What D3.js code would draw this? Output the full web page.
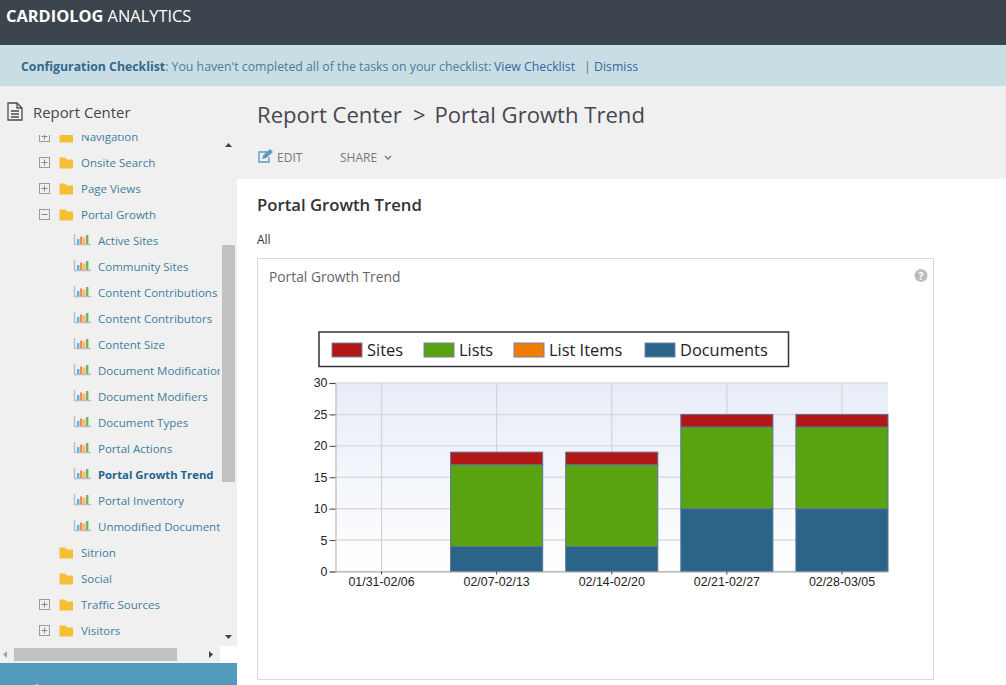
<!DOCTYPE html>
<html>
<head>
<meta charset="utf-8">
<script src="https://cdn.jsdelivr.net/npm/d3@7"></script>
<style>
  html, body { margin: 0; padding: 0; background: #fff; overflow: hidden; }
  svg { display: block; }
  text { font-family: "Open Sans", sans-serif; }
  .axis text { font-family: "Liberation Sans", Arial, sans-serif; }
</style>
</head>
<body>
<div id="page"></div>
<script>
// chart data
const weeks = ["01/31-02/06", "02/07-02/13", "02/14-02/20", "02/21-02/27", "02/28-03/05"];
const documents = [0, 4, 4, 10, 10];
const listItems = [0, 0, 0, 0, 0];
const lists = [0, 13, 13, 13, 13];
const sites = [0, 2, 2, 2, 2];
const seriesNames = ["Sites", "Lists", "List Items", "Documents"];
const seriesColors = ["#b31616", "#58a30f", "#f07d06", "#2b6489"];
const yTicks = [0, 5, 10, 15, 20, 25, 30];

// sidebar tree: label, depth, toggle
const treeLabels = ["Navigation", "Onsite Search", "Page Views", "Portal Growth", "Active Sites", "Community Sites",
  "Content Contributions", "Content Contributors", "Content Size", "Document Modifications", "Document Modifiers",
  "Document Types", "Portal Actions", "Portal Growth Trend", "Portal Inventory", "Unmodified Documents",
  "Sitrion", "Social", "Traffic Sources", "Visitors"];
const treeDepth = [0, 0, 0, 0, 1, 1, 1, 1, 1, 1, 1, 1, 1, 1, 1, 1, 0, 0, 0, 0];
const treeToggle = ["+", "+", "+", "-", "", "", "", "", "", "", "", "", "", "", "", "", "", "", "+", "+"];

const svg = d3.select("#page").append("svg").attr("width", 1006).attr("height", 685);
const defs = svg.append("defs");

const grad = defs.append("linearGradient").attr("id", "plotBg")
    .attr("x1", 0).attr("y1", 0).attr("x2", 0).attr("y2", 1);
grad.append("stop").attr("offset", "0%").attr("stop-color", "#e7edf7");
grad.append("stop").attr("offset", "100%").attr("stop-color", "#ffffff");

defs.append("clipPath").attr("id", "treeClip").append("rect")
    .attr("x", 0).attr("y", 135).attr("width", 220).attr("height", 512);

// page backdrop
svg.append("rect").attr("width", 1006).attr("height", 685).attr("fill", "#f0f0f0");
svg.append("rect").attr("width", 1006).attr("height", 45).attr("fill", "#3c444e");
svg.append("rect").attr("y", 45).attr("width", 1006).attr("height", 41).attr("fill", "#c9dde5");
svg.append("rect").attr("x", 237).attr("y", 179).attr("width", 769).attr("height", 506).attr("fill", "#fff");

// header
const brand = svg.append("text").attr("x", 6).attr("y", 22).attr("font-size", 16.4).attr("fill", "#fff");
brand.append("tspan").attr("font-weight", 700).text("CARDIOLOG");
brand.append("tspan").text(" ANALYTICS");

// checklist banner
const banner = svg.append("text").attr("x", 21).attr("y", 71).attr("font-size", 12.3).attr("fill", "#4b7c96");
banner.append("tspan").attr("font-weight", 700).attr("fill", "#33698a").text("Configuration Checklist");
banner.append("tspan").text(": You haven't completed all of the tasks on your checklist: ");
banner.append("tspan").attr("x", 494).attr("fill", "#33689f").text("View Checklist");
banner.append("tspan").attr("x", 584).attr("fill", "#4b7c96").text("|");
banner.append("tspan").attr("x", 594).attr("fill", "#33689f").text("Dismiss");

// sidebar title with page icon
const pageIcon = svg.append("g").attr("transform", "translate(7,102)").attr("fill", "none").attr("stroke", "#4a4a52").attr("stroke-width", 1.3);
pageIcon.append("path").attr("d", "M1 1H10L15 6V18H1Z");
pageIcon.append("path").attr("d", "M10 1V6H15M4 9H12M4 12H12M4 15H12");
svg.append("text").attr("x", 33).attr("y", 118).attr("font-size", 14.9).attr("fill", "#47474f").text("Report Center");

// sidebar tree
const tree = svg.append("g").attr("clip-path", "url(#treeClip)");
const rowY = d3.scaleLinear().domain([0, 19]).range([137, 631]);
const rows = tree.selectAll("g.row").data(treeLabels).enter().append("g")
    .attr("class", "row")
    .attr("transform", (d, i) => `translate(0,${rowY(i)})`);

rows.append("text")
    .attr("x", (d, i) => treeDepth[i] ? 98 : 81)
    .attr("y", 4)
    .attr("font-size", d => d === "Portal Growth Trend" ? 11.3 : 11.5)
    .attr("font-weight", d => d === "Portal Growth Trend" ? 700 : 400)
    .attr("fill", d => d === "Portal Growth Trend" ? "#24658c" : "#3f7d9f")
    .text(d => d);

rows.filter((d, i) => !treeDepth[i]).append("path")
    .attr("d", "M59.5 -5.500H65L67 -3.500H73V5.500H59.5Z")
    .attr("fill", "#f5c035");

const toggles = rows.filter((d, i) => treeToggle[i]);
toggles.append("rect").attr("x", 39.5).attr("y", -5.5).attr("width", 10).attr("height", 10)
    .attr("fill", "none").attr("stroke", "#9a9a9a");
toggles.append("path")
    .attr("d", (d) => treeToggle[treeLabels.indexOf(d)] === "+" ? "M41.5 -0.5H47.5M44.5 -3.5V2.5" : "M41.5 -0.5H47.5")
    .attr("stroke", "#8a8a8a").attr("fill", "none");

// little report icon in front of the leaves
const leafIcon = rows.filter((d, i) => treeDepth[i]).append("g").attr("transform", "translate(74,-7)");
leafIcon.append("path").attr("d", "M0.5 0V10.5H17").attr("fill", "none").attr("stroke", "#bcbcbc").attr("stroke-width", 1.4);
[["#58b5e8", 3, 5, 5], ["#ee8a6a", 6, 2.5, 7.500], ["#f2c14e", 9, 3.5, 6.500], ["#6fb36a", 12, 1, 9]].forEach(b => {
  leafIcon.append("rect").attr("x", b[1]).attr("y", b[2]).attr("width", 2.4).attr("height", b[3]).attr("fill", b[0]);
});

// sidebar scrollbars
svg.append("rect").attr("x", 222).attr("y", 245).attr("width", 13).attr("height", 237).attr("fill", "#c1c1c1");
svg.append("path").attr("d", "M225 147L228.500 143L232 147Z").attr("fill", "#444");
svg.append("path").attr("d", "M225 635L228.500 639L232 635Z").attr("fill", "#444");
svg.append("rect").attr("x", 14).attr("y", 648).attr("width", 163).attr("height", 13).attr("fill", "#c1c1c1");
svg.append("path").attr("d", "M7 651L3 654.500L7 658Z").attr("fill", "#a3a3a3");
svg.append("path").attr("d", "M209 651L213 654.500L209 658Z").attr("fill", "#444");
svg.append("rect").attr("x", 220).attr("y", 646).attr("width", 17).attr("height", 17).attr("fill", "#fff");

// bottom blue block with clipped label
svg.append("rect").attr("y", 663).attr("width", 237).attr("height", 22).attr("fill", "#529bbc");
svg.append("text").attr("x", 8).attr("y", 695).attr("font-size", 15).attr("fill", "#fff").text("Analytic Dr");

// report heading
const heading = svg.append("text").attr("y", 123).attr("font-size", 22.1).attr("fill", "#47474f");
heading.append("tspan").attr("x", 257).text("Report Center");
heading.append("tspan").attr("x", 413).text(">");
heading.append("tspan").attr("x", 434.5).text("Portal Growth Trend");

const editIcon = svg.append("g").attr("transform", "translate(257,149)").attr("fill", "none").attr("stroke", "#5b9cc0").attr("stroke-width", 1.3);
editIcon.append("path").attr("d", "M11 3H2V13H12V8");
editIcon.append("path").attr("d", "M6 9L7 6.500L13 1L15 3L9 8.500Z").attr("fill", "#5b9cc0");
svg.append("text").attr("x", 277).attr("y", 162).attr("font-size", 12).attr("fill", "#777").text("EDIT");
svg.append("text").attr("x", 340).attr("y", 162).attr("font-size", 12).attr("fill", "#777").text("SHARE");
svg.append("path").attr("d", "M385 156L388 159L391 156").attr("fill", "none").attr("stroke", "#777").attr("stroke-width", 1.3);

svg.append("text").attr("x", 257).attr("y", 211).attr("font-size", 16.7).attr("font-weight", 600).attr("fill", "#333").text("Portal Growth Trend");
svg.append("text").attr("x", 257).attr("y", 244).attr("font-size", 12).attr("fill", "#333").text("All");

// chart panel
svg.append("rect").attr("x", 257.5).attr("y", 258.5).attr("width", 676).attr("height", 421)
    .attr("fill", "#fff").attr("stroke", "#d9d9d9");
svg.append("text").attr("x", 269).attr("y", 282).attr("font-size", 13.8).attr("fill", "#666").text("Portal Growth Trend");
svg.append("circle").attr("cx", 921).attr("cy", 275.5).attr("r", 6.5).attr("fill", "#bdbdbd");
svg.append("text").attr("x", 921).attr("y", 279.5).attr("font-size", 10.5).attr("font-weight", 700)
    .attr("text-anchor", "middle").attr("fill", "#fff").text("?");

// scales
const x = d3.scaleBand().domain(weeks).range([335.5, 888]).paddingInner(0.2).paddingOuter(0);
const y = d3.scaleLinear().domain([0, 30]).range([571.5, 383]);

// plot background + grid
svg.append("rect").attr("x", 335.5).attr("y", 383).attr("width", 552.5).attr("height", 188.5).attr("fill", "url(#plotBg)");

svg.append("g").selectAll("line").data(yTicks).enter().append("line")
    .attr("x1", 335.5).attr("x2", 888)
    .attr("y1", d => y(d)).attr("y2", d => y(d))
    .attr("stroke", "#dcdcdc").attr("stroke-width", 1.5);

svg.append("g").selectAll("line").data(weeks).enter().append("line")
    .attr("x1", d => x(d) + x.bandwidth() / 2).attr("x2", d => x(d) + x.bandwidth() / 2)
    .attr("y1", 383).attr("y2", 571.5)
    .attr("stroke", "#d4d4d4").attr("stroke-width", 1.2);

// stacked bars
const table = weeks.map((w, i) => ({ week: w, Documents: documents[i], "List Items": listItems[i], Lists: lists[i], Sites: sites[i] }));
const stackOrder = ["Documents", "List Items", "Lists", "Sites"];
const stacked = d3.stack().keys(stackOrder)(table);

svg.append("g").selectAll("g").data(stacked).enter().append("g")
    .attr("fill", s => seriesColors[seriesNames.indexOf(s.key)])
    .selectAll("rect").data(s => s.filter(d => d[1] > d[0])).enter().append("rect")
    .attr("x", d => x(d.data.week))
    .attr("y", d => y(d[1]))
    .attr("width", x.bandwidth())
    .attr("height", d => y(d[0]) - y(d[1]))
    .attr("stroke", "#5a7695")
    .attr("stroke-width", 1);

// axes
const yAxis = svg.append("g").attr("class", "axis").attr("transform", "translate(335.5,0)")
    .call(d3.axisLeft(y).tickValues(yTicks).tickSize(6).tickPadding(2));
yAxis.select(".domain").attr("stroke", "#c8c8c8").attr("stroke-width", 1.5);
yAxis.selectAll("line").attr("stroke", "#444");
yAxis.selectAll("text").attr("font-size", 12.4).attr("fill", "#222");

const xAxis = svg.append("g").attr("class", "axis").attr("transform", "translate(0,571.5)")
    .call(d3.axisBottom(x).tickSize(3).tickPadding(3).tickSizeOuter(0));
xAxis.select(".domain").attr("stroke", "#aaa").attr("stroke-width", 1.2);
xAxis.selectAll("line").attr("stroke", "#444");
xAxis.selectAll("text").attr("font-size", 12.4).attr("fill", "#222");

// legend
svg.append("rect").attr("x", 319).attr("y", 332).attr("width", 469.5).attr("height", 34.5)
    .attr("fill", "#fff").attr("stroke", "#333").attr("stroke-width", 1.5);
const legendX = d3.scaleOrdinal().domain(seriesNames).range([332, 424, 514, 645]);
const legend = svg.append("g").selectAll("g").data(seriesNames).enter().append("g")
    .attr("transform", d => `translate(${legendX(d)},343)`);
legend.append("rect").attr("width", 30).attr("height", 14)
    .attr("fill", (d, i) => seriesColors[i]).attr("stroke", "#6f86a3");
legend.append("text").attr("x", 35).attr("y", 13).attr("font-size", 16.4)
    .attr("fill", "#222").text(d => d);
</script>
</body>
</html>
